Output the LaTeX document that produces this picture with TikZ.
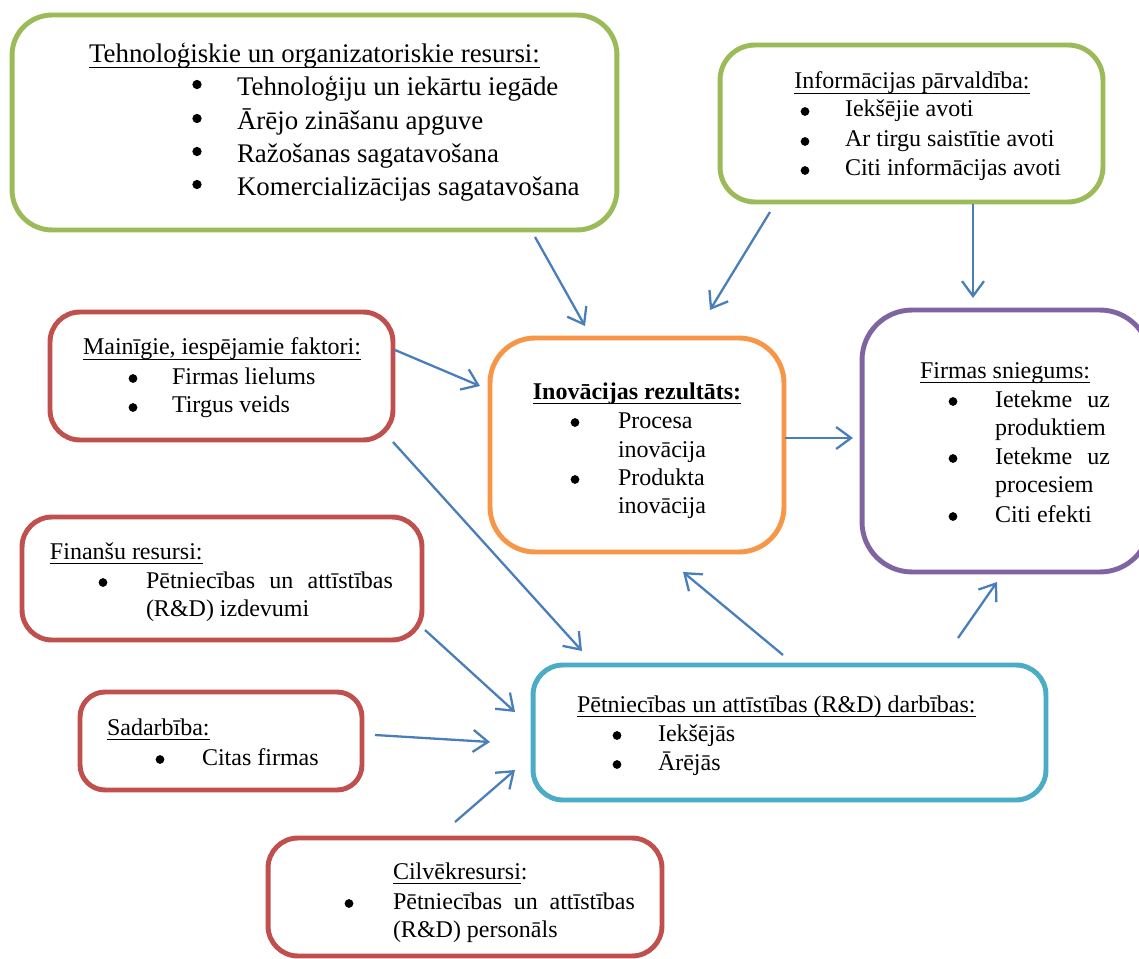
\documentclass[tikz,border=0pt]{standalone}
\usepackage{fontspec}
\setmainfont{Liberation Serif}
\usetikzlibrary{arrows.meta}

% underline at a fixed distance under the baseline, crossing descenders
\newcommand{\undl}[1]{\leavevmode\vtop{\hbox{\raisebox{0pt}[\height][0pt]{#1}}\kern2.0pt\hrule height 0.8pt}}

\definecolor{boxgreen}{HTML}{9BBB59}
\definecolor{boxred}{HTML}{C0504D}
\definecolor{boxorange}{HTML}{F79646}
\definecolor{boxpurple}{HTML}{8064A2}
\definecolor{boxteal}{HTML}{4BACC6}
\definecolor{arrowblue}{HTML}{4A7EBB}

\tikzset{
  panel/.style={draw=#1, line width=2.8pt, fill=white, rectangle,
                inner sep=0pt, outer sep=0pt},
  txt/.style={inner sep=0pt, outer sep=0pt, anchor=base west,
              font=\fontsize{13.66}{16}\selectfont},
  txtbig/.style={txt, font=\fontsize{15.3}{18}\selectfont},
  head/.style={txt, anchor=base},
  headbig/.style={txtbig, anchor=base},
  % list bullets: round dots sitting at x-height middle of their line
  dot/.style={circle, fill=black, draw=none, inner sep=0pt,
              minimum size=0.175cm, yshift=0.11cm},
  dotbig/.style={dot, minimum size=0.185cm, yshift=0.12cm},
  link/.style={draw=arrowblue, line width=1.3pt,
               -{Straight Barb[length=8.5pt,width=12.5pt]}},
}

\begin{document}
\begin{tikzpicture}[x=0.02cm,y=-0.02cm]
\clip (0,0) rectangle (1139,959);
\fill[white] (0,0) rectangle (1139,959);

% ---------- boxes ----------
\node[panel=boxgreen, rounded corners=0.8cm, minimum width=12.10cm, minimum height=4.30cm] (tech) at (314.5,122.5) {};
\node[panel=boxgreen, rounded corners=0.7cm, minimum width=7.66cm, minimum height=3.14cm] (info) at (911.5,123.5) {};
\node[panel=boxred, rounded corners=0.6cm, minimum width=6.86cm, minimum height=2.56cm] (vars) at (221.5,376) {};
\node[panel=boxorange, rounded corners=0.9cm, minimum width=5.88cm, minimum height=4.28cm] (innov) at (637,445) {};
\node[panel=boxpurple, rounded corners=1.0cm, minimum width=5.76cm, minimum height=5.24cm] (perf) at (1006,441) {};
\node[panel=boxred, rounded corners=0.6cm, minimum width=8.00cm, minimum height=2.46cm] (fin) at (222,578.5) {};
\node[panel=boxred, rounded corners=0.5cm, minimum width=5.64cm, minimum height=1.96cm] (coop) at (221,741) {};
\node[panel=boxteal, rounded corners=0.6cm, minimum width=10.26cm, minimum height=2.70cm] (rd) at (789.5,732.5) {};
\node[panel=boxred, rounded corners=0.6cm, minimum width=7.88cm, minimum height=2.36cm] (hum) at (465,897) {};

% ---------- technological and organisational resources ----------
\node[headbig] (techh) at (314.5,63) {\undl{Tehnoloģiskie un organizatoriskie resursi:}};
\node[dotbig] (techb1) at (197,96) {};
\node[txtbig] (techi1) at (237,96) {Tehnoloģiju un iekārtu iegāde};
\node[dotbig] (techb2) at (197,130) {};
\node[txtbig] (techi2) at (237,130) {Ārējo zināšanu apguve};
\node[dotbig] (techb3) at (197,163) {};
\node[txtbig] (techi3) at (237,163) {Ražošanas sagatavošana};
\node[dotbig] (techb4) at (197,196) {};
\node[txtbig] (techi4) at (237,196) {Komercializācijas sagatavošana};

% ---------- information management ----------
\node[head] (infoh) at (912,89) {\undl{Informācijas pārvaldība:}};
\node[dot] (infob1) at (805,117) {};
\node[txt] (infoi1) at (845,117) {Iekšējie avoti};
\node[dot] (infob2) at (805,147) {};
\node[txt] (infoi2) at (845,147) {Ar tirgu saistītie avoti};
\node[dot] (infob3) at (805,176) {};
\node[txt] (infoi3) at (845,176) {Citi informācijas avoti};

% ---------- variable factors ----------
\node[head] (varsh) at (222,355) {\undl{Mainīgie, iespējamie faktori:}};
\node[dot] (varsb1) at (133,384) {};
\node[txt] (varsi1) at (172,384) {Firmas lielums};
\node[dot] (varsb2) at (133,413) {};
\node[txt] (varsi2) at (172,413) {Tirgus veids};

% ---------- innovation result ----------
\node[head] (innovh) at (637,399) {\undl{\textbf{Inovācijas rezultāts:}}};
\node[dot] (innovb1) at (575,428) {};
\node[txt] (innovi1) at (618,428) {Procesa};
\node[txt] (innovi1b) at (618,457) {inovācija};
\node[dot] (innovb2) at (575,485) {};
\node[txt] (innovi2) at (618,485) {Produkta};
\node[txt] (innovi2b) at (618,513) {inovācija};

% ---------- firm performance ----------
\node[head] (perfh) at (1005,378) {\undl{Firmas sniegums:}};
\node[dot] (perfb1) at (953,407) {};
\node[txt] (perfi1) at (995,407) {\makebox[2.30cm][s]{Ietekme\hfill uz}};
\node[txt] (perfi1b) at (995,435) {produktiem};
\node[dot] (perfb2) at (953,464) {};
\node[txt] (perfi2) at (995,464) {\makebox[2.30cm][s]{Ietekme\hfill uz}};
\node[txt] (perfi2b) at (995,492) {procesiem};
\node[dot] (perfb3) at (953,522) {};
\node[txt] (perfi3) at (995,522) {Citi efekti};

% ---------- financial resources ----------
\node[txt] (finh) at (50,559) {\undl{Finanšu resursi:}};
\node[dot] (finb1) at (103,588) {};
\node[txt] (fini1) at (146,588) {\makebox[4.94cm][s]{Pētniecības\hfill un\hfill attīstības}};
\node[txt] (fini1b) at (146,616) {(R\&D) izdevumi};

% ---------- cooperation ----------
\node[txt] (cooph) at (107,735) {\undl{Sadarbība:}};
\node[dot] (coopb1) at (160,765) {};
\node[txt] (coopi1) at (202,765) {Citas firmas};

% ---------- R&D activities ----------
\node[txt] (rdh) at (577,712) {\undl{Pētniecības un attīstības (R\&D) darbības:}};
\node[dot] (rdb1) at (617,741) {};
\node[txt] (rdi1) at (658,741) {Iekšējās};
\node[dot] (rdb2) at (617,770) {};
\node[txt] (rdi2) at (658,770) {Ārējās};

% ---------- human resources ----------
\node[txt] (humh) at (393,879) {\undl{Cilvēkresursi}:};
\node[dot] (humb1) at (349,909) {};
\node[txt] (humi1) at (393,909) {\makebox[4.84cm][s]{Pētniecības\hfill un\hfill attīstības}};
\node[txt] (humi1b) at (393,937) {(R\&D) personāls};

% ---------- connector end points ----------
\coordinate (techOut)  at (535,237);  \coordinate (innovInT) at (585,326);
\coordinate (infoOutL) at (770,212);  \coordinate (innovInI) at (710,310);
\coordinate (infoOutD) at (973,204);  \coordinate (perfInT)  at (973,298);
\coordinate (varsOutA) at (395,350);  \coordinate (innovInV) at (480,386);
\coordinate (varsOutB) at (393,442);  \coordinate (rdInV)    at (582,651);
\coordinate (innovOut) at (785,438);  \coordinate (perfInL)  at (853,438);
\coordinate (finOut)   at (425,630);  \coordinate (rdInF)    at (515,712);
\coordinate (coopOut)  at (375,735);  \coordinate (rdInC)    at (490,742);
\coordinate (humOut)   at (455,822);  \coordinate (rdInH)    at (515,770);
\coordinate (rdOutA)   at (783,655);  \coordinate (innovInR) at (683,572);
\coordinate (rdOutB)   at (958,638);  \coordinate (perfInB)  at (997,582);

% ---------- connectors ----------
\draw[link] (techOut) -- (innovInT);
\draw[link] (infoOutL) -- (innovInI);
\draw[link] (infoOutD) -- (perfInT);
\draw[link] (varsOutA) -- (innovInV);
\draw[link] (varsOutB) -- (rdInV);
\draw[link] (innovOut) -- (perfInL);
\draw[link] (finOut) -- (rdInF);
\draw[link] (coopOut) -- (rdInC);
\draw[link] (humOut) -- (rdInH);
\draw[link] (rdOutA) -- (innovInR);
\draw[link] (rdOutB) -- (perfInB);
\end{tikzpicture}
\end{document}
